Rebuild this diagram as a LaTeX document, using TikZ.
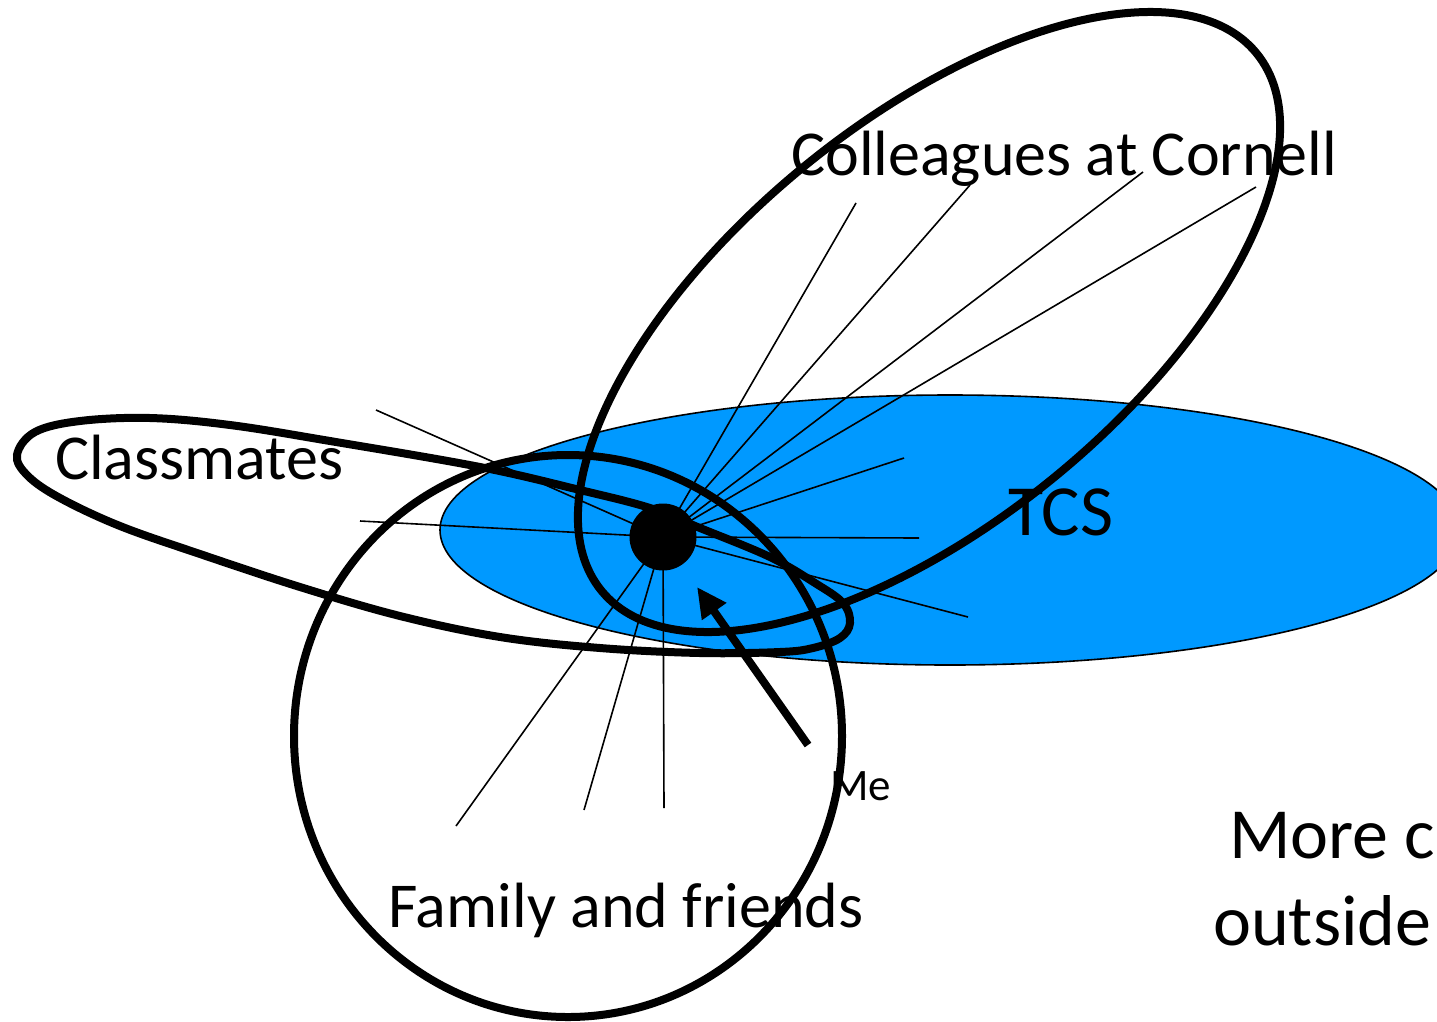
\documentclass[tikz,border=0pt]{standalone}
\usepackage{fontspec}
\setmainfont{Carlito}
\usetikzlibrary{arrows.meta}
\definecolor{tcsblue}{RGB}{0,153,255}
\tikzset{
  thickline/.style={draw=black, line width=8pt},
  ray/.style={draw=black, line width=1.6pt},
  lbl/.style={anchor=base west, inner sep=0pt, text=black},
  bigtxt/.style={font=\fontsize{64}{77}\selectfont},
}
\begin{document}
\begin{tikzpicture}[x=1pt,y=-1pt]
\useasboundingbox (0,0) rectangle (1437,1021);
\clip (0,0) rectangle (1437,1021);
% TCS area
\filldraw[fill=tcsblue, draw=black, line width=1.6pt] (950,530) ellipse [x radius=510pt, y radius=135pt];
% me
\coordinate (mec) at (663,537);
% ray end points
\coordinate (r1) at (376,410);
\coordinate (r2) at (360,521);
\coordinate (r3) at (856,203);
\coordinate (r4) at (970,185);
\coordinate (r5) at (1143,172);
\coordinate (r6) at (1256,187);
\coordinate (r7) at (904,458);
\coordinate (r8) at (919,538);
\coordinate (r9) at (968,617);
\coordinate (r10) at (456,826);
\coordinate (r11) at (584,810);
\coordinate (r12) at (664,808);
\foreach \r in {r1,r2,r3,r4,r5,r6,r7,r8,r9,r10,r11,r12}
  \draw[ray] (mec) -- (\r);
% Colleagues at Cornell
\draw[thickline, rotate around={39.4:(929,322)}] (929,322) ellipse [x radius=423.7pt, y radius=199.5pt];
% Family and friends
\draw[thickline] (568,736) ellipse [x radius=274pt, y radius=281pt];
% Classmates
\draw[thickline] plot[smooth cycle, tension=0.6] coordinates {
  (17,455) (35,432) (80,421) (150,418) (230,425) (330,441) (480,467)
  (580,490) (650,508) (700,528) (770,557) (815,583) (843,603) (850,623)
  (840,638) (813,648) (780,652) (700,653) (600,648) (500,637) (400,616)
  (300,587) (200,554) (120,526) (60,498) (28,476)};
% me dot
\node[circle, fill=black, minimum size=67pt, inner sep=0pt] (me) at (mec) {};
% arrow
\coordinate (arrs) at (808,745);
\coordinate (arre) at (697,587);
\draw[line width=8pt, -{Triangle[length=30pt,width=28pt]}] (arrs) -- (arre);
% labels
\node[lbl, bigtxt] (colleagues) at (791,175) {Colleagues at Cornell};
\node[lbl, bigtxt] (classmates) at (55,479) {Classmates};
\node[lbl, font=\fontsize{72}{86}\selectfont] (tcs) at (1008,535) {TCS};
\node[lbl, bigtxt] (family) at (388,927) {Family and friends};
\node[lbl, font=\fontsize{45}{54}\selectfont] (melbl) at (830,800) {Me};
\node[lbl, font=\fontsize{72}{87}\selectfont] (more) at (1229,858) {More c};
\node[lbl, font=\fontsize{72}{87}\selectfont] (outside) at (1213,945) {outside};
\end{tikzpicture}
\end{document}
